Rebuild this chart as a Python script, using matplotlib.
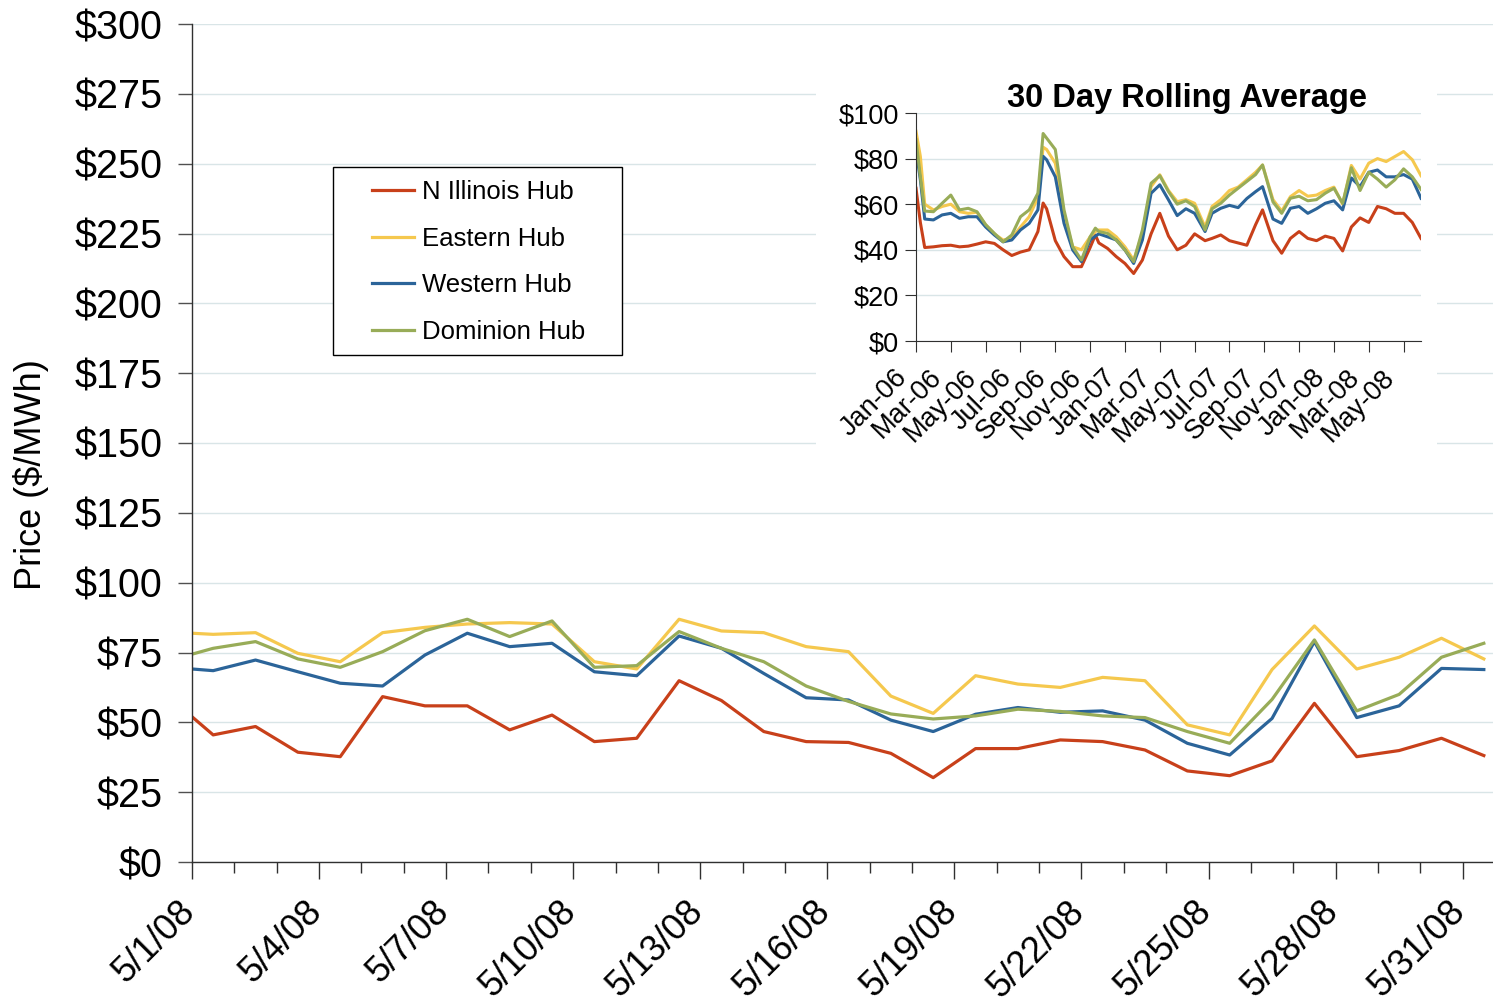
import matplotlib
matplotlib.use("Agg")
import matplotlib.pyplot as plt
from matplotlib.patches import Rectangle
from matplotlib.ticker import MultipleLocator, FuncFormatter
from matplotlib.transforms import ScaledTranslation
import numpy as np

plt.rcParams['font.family'] = ['Liberation Sans', 'DejaVu Sans']

# daily prices, May 2008 (first entry is 4/30, only the tail of it is visible)
day_labels = ['4/30/08'] + ['5/%d/08' % d for d in range(1, 32)]
n_illinois = [58.5, 45.5, 48.5, 39.3, 37.7, 59.2, 55.9, 55.9, 47.3, 52.6, 43.1, 44.3, 64.9, 57.8, 46.7, 43.1,
              42.8, 38.9, 30.2, 40.6, 40.6, 43.7, 43.1, 40.1, 32.6, 30.9, 36.2, 56.8, 37.7, 39.9, 44.3, 38.1]
eastern = [82.3, 81.5, 82.1, 74.7, 71.7, 82.1, 84.0, 85.2, 85.7, 85.2, 71.7, 69.1, 86.9, 82.7, 82.1, 77.1,
           75.3, 59.4, 53.2, 66.7, 63.7, 62.5, 66.1, 64.9, 49.1, 45.5, 68.9, 84.5, 69.1, 73.3, 80.1, 72.7]
western = [69.7, 68.5, 72.3, 68.1, 64.0, 63.0, 74.1, 81.9, 77.1, 78.3, 68.1, 66.7, 80.9, 76.5, 67.5, 58.8,
           58.0, 50.8, 46.7, 52.9, 55.3, 53.6, 54.1, 50.8, 42.5, 38.3, 51.4, 78.9, 51.7, 55.9, 69.3, 68.9]
dominion = [72.3, 76.5, 78.9, 72.7, 69.7, 75.3, 82.8, 86.9, 80.7, 86.3, 69.7, 70.3, 82.5, 76.5, 71.7, 63.0,
            57.5, 53.0, 51.2, 52.3, 54.7, 53.9, 52.3, 51.7, 46.7, 42.5, 58.2, 79.5, 54.1, 60.0, 73.3, 78.3]

# 30 day rolling average, x = months since Jan 2006
roll_month = [0, 0.25, 0.5, 1, 1.5, 2, 2.5, 3, 3.5, 4, 4.5, 5, 5.5, 6, 6.5, 7, 7.3, 7.5, 8, 8.5,
              9, 9.5, 10, 10.3, 10.5, 11, 11.5, 12, 12.5, 13, 13.5, 14, 14.5, 15, 15.5, 16, 16.6, 17, 17.5, 18,
              18.5, 19, 19.5, 19.9, 20.5, 21, 21.5, 22, 22.5, 23, 23.5, 24, 24.5, 25, 25.5, 26, 26.5, 27, 27.5, 28,
              28.5, 29]
roll_nil = [67, 52, 41, 41.3, 41.8, 42, 41.3, 41.6, 42.5, 43.5, 42.8, 40, 37.5, 39, 40, 48, 60.5, 58, 44, 37,
            32.6, 32.6, 41, 46.5, 43, 40.6, 37, 34, 29.6, 35.5, 47, 56, 46, 40, 42, 47, 44, 45, 46.5, 44,
            43, 42, 51, 57.5, 44, 38.5, 45, 48, 45, 44, 46, 45, 39.5, 50, 54, 52, 59, 58, 56, 56,
            52, 45]
roll_east = [92, 81, 60, 57.5, 59, 60, 56.7, 56, 56.5, 51, 47, 44.3, 45, 50, 54.5, 63, 85, 84, 78, 55,
             41.3, 40, 45.7, 48, 48.7, 48.7, 45.7, 41.3, 35.5, 47, 67.7, 72.9, 66, 61.1, 62, 60.4, 50, 59, 62, 66,
             67.5, 70.7, 74, 77.2, 62, 57, 63.3, 66, 63.5, 64, 66, 67.5, 60, 77, 71, 78, 80, 78.7, 80.9, 83.1,
             79.5, 72.5]
roll_west = [84, 70.7, 53.5, 53.1, 55.3, 56, 53.8, 54.5, 54.5, 50, 46.5, 43.5, 44.3, 48.7, 51.6, 57.5, 81, 79.5, 72, 51.6,
             39.9, 34.8, 44.3, 46, 47, 45.7, 44.3, 39.9, 34, 44.3, 64.8, 68.5, 61.9, 55, 58, 56, 48, 56, 58.2, 59.5,
             58.5, 62.5, 65.5, 67.7, 53.5, 51.6, 58.2, 59, 56, 58, 60.4, 61.5, 57.5, 71.5, 67.7, 74, 75, 72, 72, 73,
             71, 62.6]
roll_dom = [88.3, 72, 57, 56.7, 60.4, 64, 57.5, 58.2, 56.7, 51, 47.2, 43.5, 46.5, 54.5, 57.5, 64.8, 91, 89, 84, 57.5,
            41.3, 35.5, 45.7, 49.5, 48, 47.2, 44.3, 39.9, 34.8, 48.7, 69.2, 72.5, 65.5, 60, 61.5, 59, 48.7, 58, 60.4, 64,
            67, 70, 73, 77.2, 61, 56, 62.6, 63.5, 61.5, 62, 64.8, 67, 60.4, 76, 66, 74, 71, 67.5, 70.7, 75.5,
            72, 66.5]
month_labels = ['Jan-06', 'Mar-06', 'May-06', 'Jul-06', 'Sep-06', 'Nov-06', 'Jan-07', 'Mar-07',
                'May-07', 'Jul-07', 'Sep-07', 'Nov-07', 'Jan-08', 'Mar-08', 'May-08']

names = ['N Illinois Hub', 'Eastern Hub', 'Western Hub', 'Dominion Hub']
colors = ['#C8401A', '#F5C84E', '#2B6499', '#98AC58']
grid_c = '#d9e5e7'

W, H = 1493, 1006
fig = plt.figure(figsize=(W / 100, H / 100), dpi=100)


def px(l, t, r, b):
    return [l / W, 1 - b / H, (r - l) / W, (b - t) / H]


def shift_labels(labels, dx, dy):
    off = ScaledTranslation(dx / 100, dy / 100, fig.dpi_scale_trans)
    for lbl in labels:
        lbl.set_transform(lbl.get_transform() + off)


# ---- main chart
ax = fig.add_axes(px(192, 24, 1505, 862))
x = np.arange(len(day_labels)) - 0.5
lines = []
for vals, c in zip([n_illinois, eastern, western, dominion], colors):
    ln, = ax.plot(x, vals, color=c, lw=2.3)
    lines.append(ln)

ax.set_xlim(0, 31)
ax.set_ylim(0, 300)
ax.yaxis.set_major_locator(MultipleLocator(25))
ax.yaxis.set_major_formatter(FuncFormatter(lambda v, p: '$%d' % v))
ax.grid(axis='y', color=grid_c, lw=1)
ax.set_axisbelow(True)
for s in ['top', 'right']:
    ax.spines[s].set_visible(False)
for s in ['left', 'bottom']:
    ax.spines[s].set_color('#303030')
    ax.spines[s].set_linewidth(1)
ax.tick_params(axis='y', length=10, width=1, color='#505050', labelsize=28.5, pad=11)
ax.tick_params(axis='x', which='major', length=12, width=1, color='#303030', labelsize=26, pad=19)
ax.tick_params(axis='x', which='minor', length=8, width=1, color='#303030')
ax.set_xticks(range(0, 31, 3))
ax.set_xticklabels(day_labels[1::3], rotation=45, ha='right', va='top', rotation_mode='anchor')
ax.set_xticks(range(0, 31), minor=True)
shift_labels(ax.get_xticklabels(), -15, 11)
ax.set_ylabel('Price ($/MWh)', fontsize=26)
ax.yaxis.set_label_coords((49 - 192) / 1313, (862 - 475) / 838)

# legend with white box
fig.add_artist(Rectangle((333 / W, 1 - 355 / H), 289 / W, 188 / H, transform=fig.transFigure,
                         facecolor='white', edgecolor='black', lw=1, zorder=4))
fig.legend(lines, names, loc='upper left', bbox_to_anchor=(372 / W, 1 - 180 / H), frameon=False,
           borderpad=0, borderaxespad=0, fontsize=18.5, handlelength=1.65, handletextpad=0.3,
           labelspacing=0.88)

# ---- inset
bg = fig.add_axes(px(816, 60, 1437, 455), zorder=1)
bg.set_facecolor('white')
bg.set_xticks([])
bg.set_yticks([])
for s in bg.spines.values():
    s.set_visible(False)

ix = fig.add_axes(px(916, 113, 1421, 341), zorder=2)
for vals, c in zip([roll_nil, roll_east, roll_west, roll_dom], colors):
    ix.plot(roll_month, vals, color=c, lw=2.2)
ix.set_xlim(0, 29)
ix.set_ylim(0, 100)
ix.yaxis.set_major_locator(MultipleLocator(20))
ix.yaxis.set_major_formatter(FuncFormatter(lambda v, p: '$%d' % v))
ix.grid(axis='y', color=grid_c, lw=1)
ix.set_axisbelow(True)
for s in ['top', 'right']:
    ix.spines[s].set_visible(False)
for s in ['left', 'bottom']:
    ix.spines[s].set_color('#303030')
ix.tick_params(axis='y', length=8, color='#303030', labelsize=19.5, pad=4)
ix.tick_params(axis='x', length=8, color='#303030', labelsize=19.5, pad=16)
ix.set_xticks(range(0, 29, 2))
ix.set_xticklabels(month_labels, rotation=45, ha='right', va='top', rotation_mode='anchor')
shift_labels(ix.get_xticklabels(), -22, 10)
fig.text(1187 / W, 1 - 107 / H, '30 Day Rolling Average', fontsize=23.5, fontweight='bold',
         ha='center', va='baseline', zorder=3)

fig.savefig('out.png', dpi=100)
